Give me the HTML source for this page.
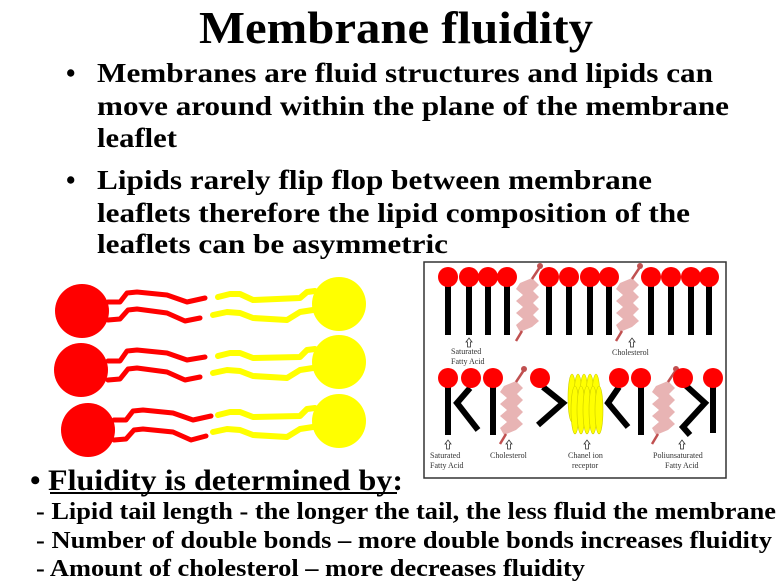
<!DOCTYPE html>
<html><head><meta charset="utf-8"><style>
html,body{margin:0;padding:0;background:#fff;}
svg{display:block;}
.t{font-family:"Liberation Serif",serif;font-weight:bold;fill:#000;}
.s{font-family:"Liberation Serif",serif;font-size:8px;fill:#333;}
</style></head><body>
<svg width="779" height="584" viewBox="0 0 779 584" xmlns="http://www.w3.org/2000/svg">
<defs>
<g id="chol">
<polygon points="-8,-22 4,-27 11,-20 5,-14 11,-8 5,-2 11,4 5,10 11,16 4,22 -8,27 -12,20 -5,14 -12,8 -5,2 -12,-4 -5,-10 -12,-16" fill="#e8b4b4"/>
<line x1="4" y1="-26" x2="12" y2="-38" stroke="#c05050" stroke-width="2.5"/>
<circle cx="12" cy="-39" r="3" fill="#c05050"/>
<line x1="-6" y1="26" x2="-12" y2="36" stroke="#c05050" stroke-width="2.5"/>
</g>
<g id="arr"><path d="M-3,4 L0,0 L3,4 L1.5,4 L1.5,9 L-1.5,9 L-1.5,4 Z" fill="#fff" stroke="#333" stroke-width="0.8"/></g>
</defs>

<text class="t" x="199" y="43" font-size="46" textLength="394" lengthAdjust="spacingAndGlyphs">Membrane fluidity</text>

<text class="t" x="66" y="82" font-size="27">•</text>
<text class="t" x="97" y="82" font-size="27" textLength="616" lengthAdjust="spacingAndGlyphs">Membranes are fluid structures and lipids can</text>
<text class="t" x="97" y="115" font-size="27" textLength="632" lengthAdjust="spacingAndGlyphs">move around within the plane of the membrane</text>
<text class="t" x="97" y="147" font-size="27" textLength="80" lengthAdjust="spacingAndGlyphs">leaflet</text>
<text class="t" x="66" y="189" font-size="27">•</text>
<text class="t" x="97" y="189" font-size="27" textLength="555" lengthAdjust="spacingAndGlyphs">Lipids rarely flip flop between membrane</text>
<text class="t" x="97" y="222" font-size="27" textLength="593" lengthAdjust="spacingAndGlyphs">leaflets therefore the lipid composition of the</text>
<text class="t" x="97" y="253" font-size="27" textLength="351" lengthAdjust="spacingAndGlyphs">leaflets can be asymmetric</text>

<g fill="none" stroke-width="5" stroke-linecap="round" stroke-linejoin="round">
<g stroke="#f00">
<path d="M108,302 L120,302 L127,293 L137,292 L167,295 L187,302 L205,298"/>
<path d="M108,320 L120,319 L128,310 L137,309 L167,313 L185,321 L200,318"/>
<path d="M108,361 L120,361 L127,351 L137,350 L167,353 L187,360 L205,357"/>
<path d="M108,380 L120,379 L128,369 L137,368 L167,372 L185,380 L200,377"/>
<path d="M114,420 L126,420 L133,411 L143,410 L173,413 L193,420 L211,416"/>
<path d="M114,440 L126,439 L134,430 L143,429 L173,432 L191,440 L206,436"/>
</g>
<g stroke="#ff0" stroke-width="6">
<path d="M218,297 L230,294 L240,294 L253,300 L300,298 L307,292 L315,291"/>
<path d="M213,315 L227,312 L240,313 L253,318 L287,320 L300,312 L313,310"/>
<path d="M218,356 L230,353 L240,353 L253,358 L300,357 L307,350 L315,349"/>
<path d="M213,373 L227,370 L240,371 L253,376 L287,378 L300,370 L313,368"/>
<path d="M218,415 L230,412 L240,412 L253,417 L300,416 L307,409 L315,408"/>
<path d="M213,432 L227,429 L240,430 L253,435 L287,437 L300,429 L313,427"/>
</g>
</g>
<circle cx="82" cy="311" r="27" fill="#f00"/>
<circle cx="81" cy="370" r="27" fill="#f00"/>
<circle cx="88" cy="430" r="27" fill="#f00"/>
<circle cx="339" cy="304" r="27" fill="#ff0"/>
<circle cx="339" cy="362" r="27" fill="#ff0"/>
<circle cx="339" cy="421" r="27" fill="#ff0"/>

<rect x="424" y="262" width="302" height="216" fill="#fff" stroke="#333" stroke-width="1.5"/>
<g stroke="#000" stroke-width="6" fill="none">
<path d="M448,280V335M469,280V335M488,280V335M507,280V335M549,280V335M569,280V335M590,280V335M609,280V335M651,280V335M671,280V335M691,280V335M709,280V335"/>
<path d="M448,385V435M493,385V435M641,385V435M713,385V433"/>
</g>
<g stroke="#000" stroke-width="6" fill="none" stroke-linejoin="miter">
<path d="M470,388 L457,403 L478,430"/>
<path d="M543,387 L563,403 L538,425"/>
<path d="M619,387 L608,403 L628,427"/>
<path d="M683,383 L705,403 L683,427 L690,435"/>
</g>
<use href="#chol" x="528" y="305"/>
<use href="#chol" x="628" y="305"/>
<use href="#chol" x="512" y="408"/>
<use href="#chol" x="664" y="408"/>
<g fill="#f00">
<circle cx="448" cy="277" r="10"/><circle cx="469" cy="277" r="10"/><circle cx="488" cy="277" r="10"/><circle cx="507" cy="277" r="10"/>
<circle cx="549" cy="277" r="10"/><circle cx="569" cy="277" r="10"/><circle cx="590" cy="277" r="10"/><circle cx="609" cy="277" r="10"/>
<circle cx="651" cy="277" r="10"/><circle cx="671" cy="277" r="10"/><circle cx="691" cy="277" r="10"/><circle cx="709" cy="277" r="10"/>
<circle cx="448" cy="378" r="10"/><circle cx="471" cy="378" r="10"/><circle cx="493" cy="378" r="10"/><circle cx="540" cy="378" r="10"/>
<circle cx="619" cy="378" r="10"/><circle cx="641" cy="378" r="10"/><circle cx="683" cy="378" r="10"/><circle cx="713" cy="378" r="10"/>
</g>
<g fill="#ff0" stroke="#cc0" stroke-width="0.6">
<ellipse cx="572" cy="398" rx="4" ry="24"/><ellipse cx="578" cy="398" rx="4" ry="24"/><ellipse cx="584" cy="398" rx="4" ry="24"/><ellipse cx="590" cy="398" rx="4" ry="24"/><ellipse cx="596" cy="398" rx="4" ry="24"/>
<ellipse cx="575" cy="410" rx="4" ry="24"/><ellipse cx="581" cy="410" rx="4" ry="24"/><ellipse cx="587" cy="410" rx="4" ry="24"/><ellipse cx="593" cy="410" rx="4" ry="24"/><ellipse cx="599" cy="410" rx="4" ry="24"/>
</g>
<use href="#arr" x="469" y="338"/><use href="#arr" x="632" y="338"/>
<use href="#arr" x="448" y="440"/><use href="#arr" x="509" y="440"/><use href="#arr" x="587" y="440"/><use href="#arr" x="682" y="440"/>
<text class="s" x="451" y="354">Saturated</text><text class="s" x="451" y="364">Fatty Acid</text>
<text class="s" x="612" y="355">Cholesterol</text>
<text class="s" x="430" y="458">Saturated</text><text class="s" x="430" y="468">Fatty Acid</text>
<text class="s" x="490" y="458">Cholesterol</text>
<text class="s" x="568" y="458">Chanel ion</text><text class="s" x="572" y="468">receptor</text>
<text class="s" x="653" y="458">Poliunsaturated</text><text class="s" x="665" y="468">Fatty Acid</text>

<text class="t" x="30" y="490" font-size="30">•</text>
<text class="t" x="48" y="490" font-size="30" textLength="355" lengthAdjust="spacingAndGlyphs"> Fluidity is determined by:</text>
<rect x="50" y="492" width="347" height="2" fill="#000"/>
<text class="t" x="36" y="519" font-size="24" textLength="740" lengthAdjust="spacingAndGlyphs">- Lipid tail length - the longer the tail, the less fluid the membrane</text>
<text class="t" x="36" y="548" font-size="24" textLength="736" lengthAdjust="spacingAndGlyphs">- Number of double bonds – more double bonds increases fluidity</text>
<text class="t" x="36" y="576" font-size="24" textLength="549" lengthAdjust="spacingAndGlyphs">- Amount of cholesterol – more decreases fluidity</text>
</svg>
</body></html>
